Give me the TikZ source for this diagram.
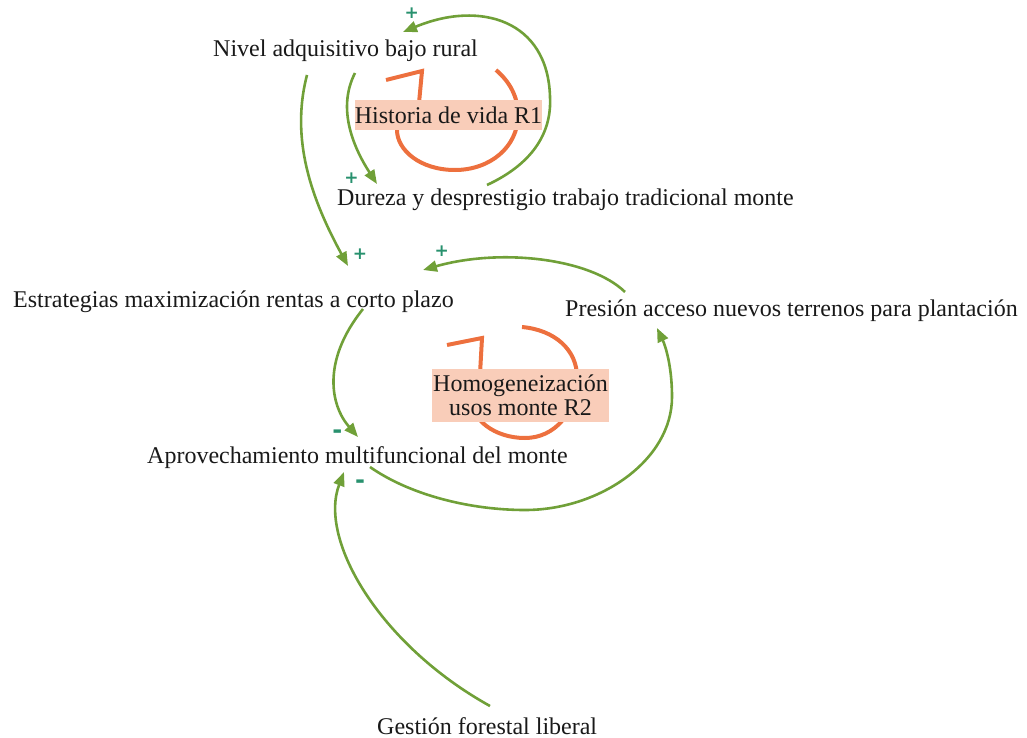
\documentclass[tikz,border=0pt]{standalone}
\usepackage{fontspec}
\setmainfont{Liberation Serif}
\newfontfamily\signfont{DejaVu Sans}
\usetikzlibrary{arrows.meta}
\definecolor{grn}{RGB}{112,160,56}
\definecolor{org}{RGB}{237,112,62}
\definecolor{sal}{RGB}{249,205,185}
\definecolor{signcol}{RGB}{40,145,110}
\definecolor{ink}{RGB}{25,25,25}
\begin{document}
\begin{tikzpicture}[x=1pt,y=1pt,
  lbl/.style={font=\fontsize{24}{25}\selectfont, text=ink, inner sep=0pt, anchor=base west},
  loopbox/.style={font=\fontsize{24}{24}\selectfont, text=ink, fill=sal, inner sep=0pt, align=center},
  link/.style={draw=grn, line width=2.6pt, -{Triangle[length=14pt,width=11pt]}},
  loopline/.style={draw=org, line width=4pt},
  sign/.style={font=\signfont\bfseries\fontsize{17}{17}\selectfont, text=signcol, inner sep=0pt},
  minussign/.style={font=\signfont\bfseries\fontsize{24}{24}\selectfont, text=signcol, inner sep=0pt}
]
\useasboundingbox (0,0) rectangle (1027,-738);
% reinforcing loop R1
\draw[loopline] (496,-70) .. controls (510,-82) and (518,-97) .. (518,-115)
  .. controls (518,-147) and (490,-170) .. (455,-170)
  .. controls (420,-170) and (397,-150) .. (397,-130)
  .. controls (397,-118) and (412,-108) .. (419,-103) -- (422,-71) -- (386,-80);
\node[loopbox, minimum width=187pt, minimum height=30pt] (r1) at (448.5,-115) {Historia de vida R1};
% reinforcing loop R2
\draw[loopline] (522,-327) .. controls (555,-330) and (577,-350) .. (577,-377)
  .. controls (577,-412) and (555,-438) .. (525,-438)
  .. controls (495,-438) and (470,-420) .. (470,-395)
  .. controls (470,-385) and (476,-378) .. (480,-374) -- (482,-338) -- (447,-345);
\node[loopbox, minimum width=177pt, minimum height=53pt] (r2) at (520.5,-395.5) {Homogeneización\\usos monte R2};
% variables
\node[lbl] (nivel) at (213,-57) {Nivel adquisitivo bajo rural};
\node[lbl] (dureza) at (337,-205) {Dureza y desprestigio trabajo tradicional monte};
\node[lbl] (estr) at (13,-307) {Estrategias maximización rentas a corto plazo};
\node[lbl] (pres) at (565,-316) {Presión acceso nuevos terrenos para plantación};
\node[lbl] (aprov) at (147,-463) {Aprovechamiento multifuncional del monte};
\node[lbl] (gest) at (377,-734) {Gestión forestal liberal};
% links
\draw[link] ([shift={(142,-16)}]nivel.base west) .. controls (336,-110) and (355,-150) .. ([shift={(40,21)}]dureza.base west);
\draw[link] ([shift={(150,20)}]dureza.base west) .. controls (530,-165) and (552,-135) .. (550,-97)
  .. controls (548,-20) and (480,0) .. ([shift={(190,25)}]nivel.base west);
\draw[link] ([shift={(94,-18)}]nivel.base west) .. controls (290,-140) and (312,-200) .. ([shift={(335,41)}]estr.base west);
\draw[link] ([shift={(60,24)}]pres.base west) .. controls (590,-258) and (500,-248) .. ([shift={(410,37)}]estr.base west);
\draw[link] ([shift={(350,-2)}]estr.base west) .. controls (322,-360) and (330,-405) .. ([shift={(211,26)}]aprov.base west);
\draw[link] ([shift={(223,-4)}]aprov.base west) .. controls (410,-495) and (470,-510) .. (525,-510)
  .. controls (600,-510) and (672,-460) .. (672,-397)
  .. controls (672,-365) and (665,-345) .. ([shift={(92,-12)}]pres.base west);
\draw[link] ([shift={(113,28)}]gest.base west) .. controls (380,-645) and (318,-540) .. ([shift={(197,-9)}]aprov.base west);
% polarity signs
\node[sign] (s1) at (351.5,-178.5) {+};
\node[sign] (s2) at (411.7,-13.3) {+};
\node[sign] (s3) at (360,-254) {+};
\node[sign] (s4) at (441.7,-251) {+};
\node[minussign] (s5) at (337.3,-434) {-};
\node[minussign] (s6) at (360,-484) {-};
\end{tikzpicture}
\end{document}
